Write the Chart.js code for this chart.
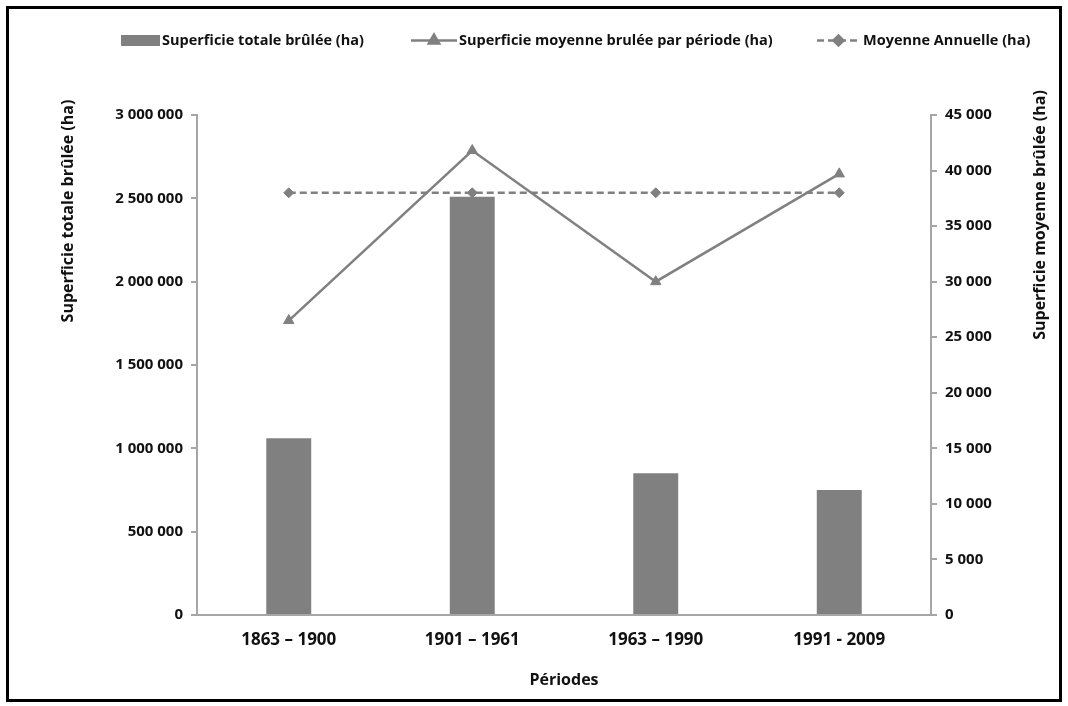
<!DOCTYPE html>
<html lang="fr">
<head>
<meta charset="utf-8">
<title>Superficies brûlées par période</title>
<script src="https://cdn.jsdelivr.net/npm/chart.js@4.4.1/dist/chart.umd.min.js"></script>
<style>
  html, body { margin: 0; padding: 0; background: #fff; }
  #wrap { width: 1068px; height: 706px; }
</style>
</head>
<body>
<div id="wrap"><canvas id="c" width="1068" height="706"></canvas></div>
<script>
// Périodes et valeurs
const periods = ['1863 – 1900', '1901 – 1961', '1963 – 1990', '1991 - 2009'];
const totalBurned = [1060000, 2510000, 850000, 750000];      // ha
const meanPerPeriod = [26500, 41800, 30000, 39700];          // ha
const annualMean = [38000, 38000, 38000, 38000];             // ha
const leftTicks = [0, 500000, 1000000, 1500000, 2000000, 2500000, 3000000];
const rightTicks = [0, 5000, 10000, 15000, 20000, 25000, 30000, 35000, 40000, 45000];

const seriesLabels = [
  'Superficie totale brûlée (ha)',
  'Superficie moyenne brulée par période (ha)',
  'Moyenne Annuelle (ha)'
];
const axisTitles = {
  left: 'Superficie totale brûlée (ha)',
  right: 'Superficie moyenne brûlée (ha)',
  x: 'Périodes'
};

const FONT = '"Open Sans", sans-serif';
const GREY = '#808080';
const AXIS = '#a6a6a6';
const INK = '#111111';

function spaced(v) {
  return String(v).replace(/\B(?=(\d{3})+(?!\d))/g, ' ');
}

// Cadre, titres des axes verticaux et légende
const decorations = {
  id: 'decorations',
  beforeDraw(chart) {
    const ctx = chart.ctx;
    ctx.save();
    ctx.fillStyle = '#ffffff';
    ctx.fillRect(0, 0, chart.width, chart.height);
    ctx.restore();
  },
  afterDraw(chart) {
    const ctx = chart.ctx;
    const ds = chart.data.datasets;
    ctx.save();

    // cadre noir
    ctx.strokeStyle = '#000';
    ctx.lineWidth = 3;
    ctx.strokeRect(7.5, 7.5, 1053, 693);

    // titres des axes verticaux
    ctx.fillStyle = INK;
    ctx.font = 'bold 16px ' + FONT;
    ctx.textAlign = 'center';
    ctx.textBaseline = 'middle';
    [[axisTitles.left, 68, 211], [axisTitles.right, 1040, 215]].forEach(([t, x, y]) => {
      ctx.save();
      ctx.translate(x, y);
      ctx.rotate(-Math.PI / 2);
      ctx.fillText(t, 0, 0);
      ctx.restore();
    });

    // légende
    const ly = 40.5;
    ctx.font = 'bold 14.5px ' + FONT;
    ctx.textAlign = 'left';

    ctx.fillStyle = ds[0].backgroundColor;
    ctx.fillRect(121, 35, 39, 11);
    ctx.fillStyle = INK;
    ctx.fillText(ds[0].label, 162, ly);

    const sample = (d, x0, x1, tx) => {
      ctx.save();
      ctx.strokeStyle = d.borderColor;
      ctx.lineWidth = d.borderWidth;
      ctx.setLineDash(d.borderDash || []);
      ctx.beginPath();
      ctx.moveTo(x0, ly);
      ctx.lineTo(x1, ly);
      ctx.stroke();
      ctx.setLineDash([]);
      ctx.fillStyle = d.pointBackgroundColor;
      ctx.strokeStyle = d.pointBorderColor;
      Chart.helpers.drawPoint(ctx, {
        pointStyle: d.pointStyle, radius: d.pointRadius, rotation: 0, borderWidth: 1
      }, (x0 + x1) / 2, ly);
      ctx.restore();
      ctx.fillStyle = INK;
      ctx.fillText(d.label, tx, ly);
    };
    sample(ds[1], 411, 457, 459);
    sample(ds[2], 817, 860, 863);

    ctx.restore();
  }
};

new Chart(document.getElementById('c'), {
  data: {
    labels: periods,
    datasets: [
      {
        type: 'bar',
        label: seriesLabels[0],
        data: totalBurned,
        yAxisID: 'yLeft',
        backgroundColor: GREY,
        borderWidth: 0,
        barPercentage: 0.245,
        categoryPercentage: 1,
        order: 3
      },
      {
        type: 'line',
        label: seriesLabels[1],
        data: meanPerPeriod,
        yAxisID: 'yRight',
        borderColor: GREY,
        borderWidth: 2.5,
        pointStyle: 'triangle',
        pointRadius: 6,
        pointBackgroundColor: GREY,
        pointBorderColor: GREY,
        pointBorderWidth: 1,
        tension: 0,
        fill: false,
        order: 1
      },
      {
        type: 'line',
        label: seriesLabels[2],
        data: annualMean,
        yAxisID: 'yRight',
        borderColor: GREY,
        borderWidth: 2.5,
        borderDash: [7, 4],
        pointStyle: 'rectRot',
        pointRadius: 5,
        pointBackgroundColor: GREY,
        pointBorderColor: GREY,
        pointBorderWidth: 1,
        tension: 0,
        fill: false,
        order: 2
      }
    ]
  },
  options: {
    responsive: false,
    animation: false,
    devicePixelRatio: 1,
    layout: { padding: { left: 0, right: 0, top: 115, bottom: 0 } },
    plugins: {
      legend: { display: false },
      tooltip: { enabled: false },
      title: { display: false }
    },
    scales: {
      x: {
        type: 'category',
        offset: true,
        grid: { display: false, drawTicks: false },
        border: { display: true, color: AXIS, width: 2 },
        ticks: {
          color: INK,
          font: { family: FONT, size: 17, weight: 'bold' },
          padding: 15,
          maxRotation: 0,
          autoSkip: false
        },
        title: {
          display: true,
          text: axisTitles.x,
          color: INK,
          font: { family: FONT, size: 16, weight: 'bold' },
          padding: { top: 0, bottom: 16 }
        },
        afterFit(s) { s.height = 91; }
      },
      yLeft: {
        type: 'linear',
        position: 'left',
        min: 0,
        max: 3000000,
        grid: { display: true, drawOnChartArea: false, drawTicks: true, tickLength: 6, color: AXIS, lineWidth: 2 },
        border: { display: true, color: AXIS, width: 2 },
        afterBuildTicks(s) { s.ticks = leftTicks.map(v => ({ value: v })); },
        ticks: {
          color: INK,
          font: { family: FONT, size: 15, weight: 'bold' },
          padding: 8,
          callback: v => spaced(v)
        },
        afterFit(s) { s.width = 197; }
      },
      yRight: {
        type: 'linear',
        position: 'right',
        min: 0,
        max: 45000,
        grid: { display: true, drawOnChartArea: false, drawTicks: true, tickLength: 6, color: AXIS, lineWidth: 2 },
        border: { display: true, color: AXIS, width: 2 },
        afterBuildTicks(s) { s.ticks = rightTicks.map(v => ({ value: v })); },
        ticks: {
          color: INK,
          font: { family: FONT, size: 15, weight: 'bold' },
          padding: 8,
          callback: v => spaced(v)
        },
        afterFit(s) { s.width = 137; }
      }
    }
  },
  plugins: [decorations]
});
</script>
</body>
</html>
